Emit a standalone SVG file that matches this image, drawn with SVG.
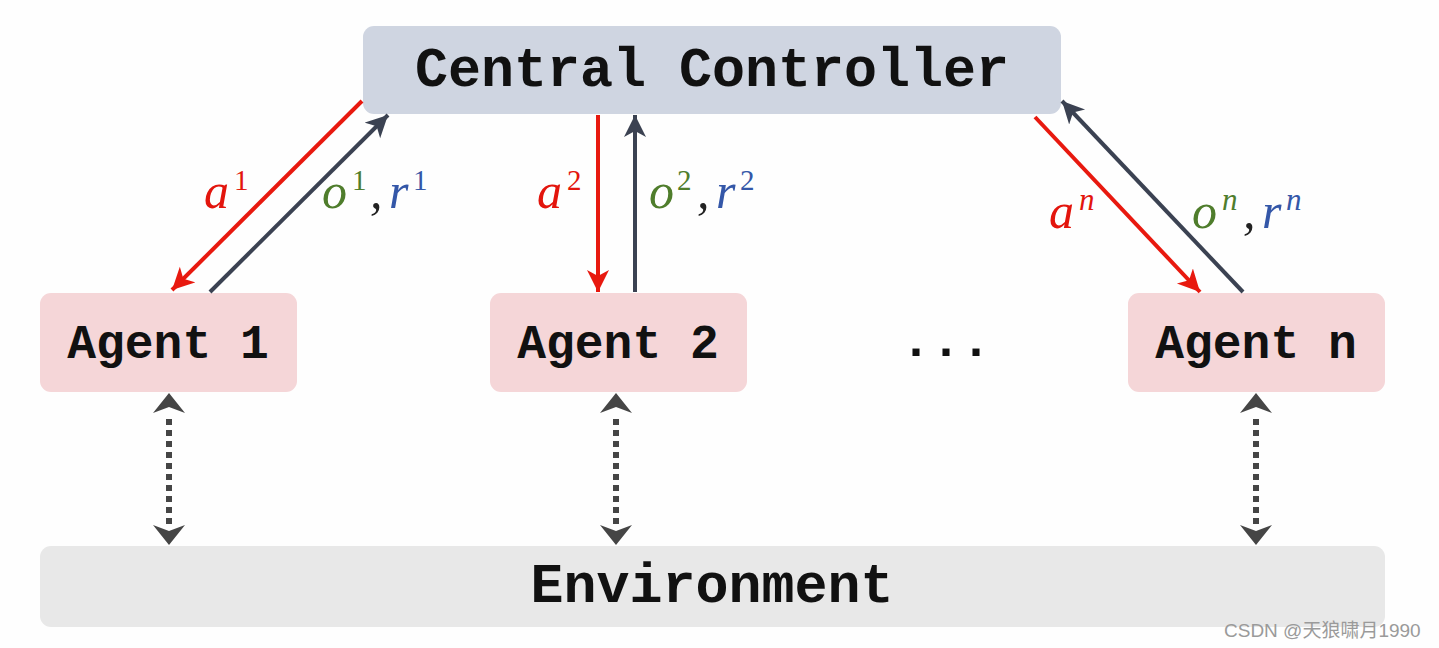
<svg xmlns="http://www.w3.org/2000/svg" width="1439" height="648" viewBox="0 0 1439 648">
<style>
.box-cc{fill:#cfd5e1}
.box-ag{fill:#f5d6d8}
.box-env{fill:#e8e8e8}
.mono{font-family:"Liberation Mono","DejaVu Sans Mono",monospace;font-weight:bold;fill:#111}
.math{font-family:"Liberation Serif","DejaVu Serif",serif;font-style:italic;font-size:50px}
.sup{font-family:"Liberation Serif","DejaVu Serif",serif;font-style:normal;font-size:29px}
.supi{font-family:"Liberation Serif","DejaVu Serif",serif;font-style:italic;font-size:31px}
.red{fill:#e3150d}
.grn{fill:#4f7d2c}
.blu{fill:#3457a8}
.blk{fill:#222}
.solid-r{stroke:#e8190f;stroke-width:4;fill:none}
.solid-d{stroke:#3b4252;stroke-width:4;fill:none}
.dot{stroke:#454545;stroke-width:6;stroke-dasharray:6 5;fill:none}
.dhead{fill:#454545}
</style>
<defs>
<marker id="ahR" markerUnits="userSpaceOnUse" markerWidth="24" markerHeight="24" refX="22" refY="11" orient="auto">
<path d="M0,0 L22,11 L0,22 L6,11 z" fill="#e8190f"/>
</marker>
<marker id="ahD" markerUnits="userSpaceOnUse" markerWidth="24" markerHeight="24" refX="22" refY="11" orient="auto">
<path d="M0,0 L22,11 L0,22 L6,11 z" fill="#3b4252"/>
</marker>
</defs>
<rect width="1439" height="648" fill="#fefefe"/>

<g id="central-controller">
<rect class="box-cc" x="363" y="26" width="698" height="88" rx="11"/>
<text class="mono" x="712" y="86" font-size="55" text-anchor="middle">Central Controller</text>
</g>
<g id="agent-1">
<rect class="box-ag" x="40" y="293" width="257" height="99" rx="11"/>
<text class="mono" x="168" y="358" font-size="48" text-anchor="middle">Agent 1</text>
</g>
<g id="agent-2">
<rect class="box-ag" x="490" y="293" width="257" height="99" rx="11"/>
<text class="mono" x="618" y="358" font-size="48" text-anchor="middle">Agent 2</text>
</g>
<g id="ellipsis">
<text class="mono" x="946" y="356" font-size="50" text-anchor="middle">...</text>
</g>
<g id="agent-n">
<rect class="box-ag" x="1128" y="293" width="257" height="99" rx="11"/>
<text class="mono" x="1256" y="358" font-size="48" text-anchor="middle">Agent n</text>
</g>
<g id="environment">
<rect class="box-env" x="40" y="546" width="1345" height="81" rx="11"/>
<text class="mono" x="712" y="602" font-size="55" text-anchor="middle">Environment</text>
</g>

<g id="connectors">
<line class="solid-r" x1="362" y1="101" x2="172" y2="290" marker-end="url(#ahR)"/>
<line class="solid-d" x1="210" y1="292" x2="388" y2="115" marker-end="url(#ahD)"/>
<line class="solid-r" x1="598" y1="115" x2="598" y2="292" marker-end="url(#ahR)"/>
<line class="solid-d" x1="635" y1="292" x2="635" y2="115" marker-end="url(#ahD)"/>
<line class="solid-r" x1="1035" y1="117" x2="1200" y2="292" marker-end="url(#ahR)"/>
<line class="solid-d" x1="1243" y1="292" x2="1062" y2="101" marker-end="url(#ahD)"/>

<line class="dot" x1="169" y1="419" x2="169" y2="528"/>
<path class="dhead" d="M169,393 L185,413 L169,407 L153,413 z"/>
<path class="dhead" d="M169,545 L185,525 L169,531 L153,525 z"/>
<line class="dot" x1="616" y1="419" x2="616" y2="528"/>
<path class="dhead" d="M616,393 L632,413 L616,407 L600,413 z"/>
<path class="dhead" d="M616,545 L632,525 L616,531 L600,525 z"/>
<line class="dot" x1="1256" y1="419" x2="1256" y2="528"/>
<path class="dhead" d="M1256,393 L1272,413 L1256,407 L1240,413 z"/>
<path class="dhead" d="M1256,545 L1272,525 L1256,531 L1240,525 z"/>
</g>

<g id="labels">
<text class="math red" x="204" y="208">a</text>
<text class="sup red" x="234" y="190">1</text>
<text class="math grn" x="322" y="208">o</text>
<text class="sup grn" x="352" y="190">1</text>
<text class="math blk" x="370" y="208">,</text>
<text class="math blu" x="389" y="208">r</text>
<text class="sup blu" x="413" y="190">1</text>

<text class="math red" x="537" y="208">a</text>
<text class="sup red" x="567" y="190">2</text>
<text class="math grn" x="649" y="208">o</text>
<text class="sup grn" x="677" y="190">2</text>
<text class="math blk" x="697" y="208">,</text>
<text class="math blu" x="716" y="208">r</text>
<text class="sup blu" x="740" y="190">2</text>

<text class="math red" x="1049" y="228">a</text>
<text class="supi red" x="1079" y="210">n</text>
<text class="math grn" x="1192" y="228">o</text>
<text class="supi grn" x="1222" y="210">n</text>
<text class="math blk" x="1243" y="228">,</text>
<text class="math blu" x="1262" y="228">r</text>
<text class="supi blu" x="1286" y="210">n</text>
</g>

<text x="1224" y="637" font-family="Liberation Sans,'Noto Sans CJK SC',sans-serif" font-size="19" fill="#9a9a9a">CSDN @天狼啸月1990</text>
</svg>
